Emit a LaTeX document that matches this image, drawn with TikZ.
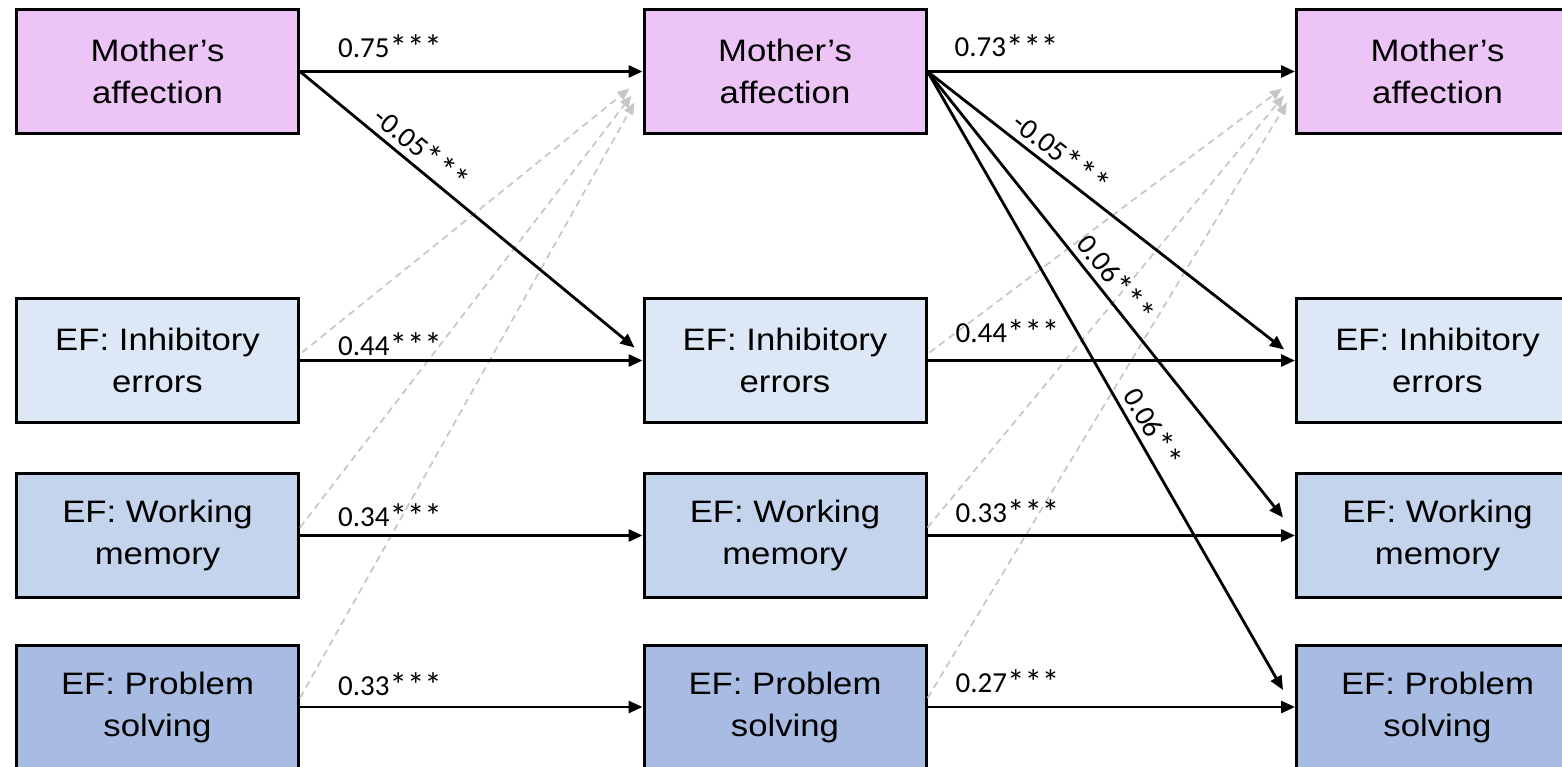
\documentclass[tikz,border=0pt]{standalone}
\usepackage{fontspec}
\setmainfont{Liberation Sans}
\newfontfamily\boxfont[FakeStretch=1.12]{Liberation Sans}
\newfontfamily\labfont{Carlito}
\usetikzlibrary{arrows.meta,calc}
\definecolor{momc}{RGB}{236,197,246}
\definecolor{inhc}{RGB}{221,232,246}
\definecolor{wmc}{RGB}{197,212,237}
\definecolor{psc}{RGB}{168,188,227}
\definecolor{ghostc}{RGB}{198,198,198}
\newcommand{\sigstars}[1]{\raisebox{-2.5pt}{\fontsize{35}{35}\selectfont #1}}
\begin{document}
\begin{tikzpicture}[x=1pt,y=-1pt,
  box/.style={draw=black, line width=3pt, minimum width=282pt, minimum height=124pt,
    inner sep=0pt, align=center, font=\boxfont\fontsize{31}{42}\selectfont},
  mom/.style={box, fill=momc},
  inh/.style={box, fill=inhc},
  wm/.style={box, fill=wmc},
  ps/.style={box, fill=psc},
  solidarr/.style={draw=black, line width=2.8pt, -{Triangle[length=14pt,width=12pt]}},
  ghost/.style={draw=ghostc, line width=1.7pt, dash pattern=on 7pt off 5pt,
    -{Triangle[length=12pt,width=10pt]}},
  coef/.style={font=\labfont\fontsize{29}{30}\selectfont, inner sep=1pt},
  slab/.style={coef, sloped, above=3pt}
]
\useasboundingbox (0,0) rectangle (1562,767);
\clip (0,0) rectangle (1562,767);

% boxes
\node[mom] (m1) at (157.5,71.5) {Mother’s\\affection};
\node[inh] (i1) at (157.5,360.5) {EF: Inhibitory\\errors};
\node[wm]  (w1) at (157.5,535.5) {EF: Working\\memory};
\node[ps]  (p1) at (157.5,707) {EF: Problem\\solving};

\node[mom] (m2) at (785,71.5) {Mother’s\\affection};
\node[inh] (i2) at (785,360.5) {EF: Inhibitory\\errors};
\node[wm]  (w2) at (785,535.5) {EF: Working\\memory};
\node[ps]  (p2) at (785,707) {EF: Problem\\solving};

\node[mom] (m3) at (1437.5,71.5) {Mother’s\\affection};
\node[inh] (i3) at (1437.5,360.5) {EF: Inhibitory\\errors};
\node[wm]  (w3) at (1437.5,535.5) {EF: Working\\memory};
\node[ps]  (p3) at (1437.5,707) {EF: Problem\\solving};

% helper coordinates
\coordinate (g1a) at ($(m2.west)+(-13,17)$);
\coordinate (g1b) at ($(m2.west)+(-11,24)$);
\coordinate (g1c) at ($(m2.west)+(-8,31)$);
\coordinate (g2a) at ($(m3.west)+(-13,17)$);
\coordinate (g2b) at ($(m3.west)+(-11,24)$);
\coordinate (g2c) at ($(m3.west)+(-8,31)$);
\coordinate (s1a) at ($(i1.east)+(2,-8)$);
\coordinate (s1b) at ($(w1.east)+(0,-8)$);
\coordinate (s1c) at ($(p1.east)+(0,-9)$);
\coordinate (s2a) at ($(i2.east)+(2,-8)$);
\coordinate (s2b) at ($(w2.east)+(0,-8)$);
\coordinate (s2c) at ($(p2.east)+(0,-9)$);
\coordinate (t1) at ($(i2.west)+(-8,-13)$);
\coordinate (t2) at ($(i3.west)+(-11,-11)$);
\coordinate (t3) at ($(w3.west)+(-12,-18)$);
\coordinate (t4) at ($(p3.west)+(-12,-17)$);

% gray dashed cross-lagged paths
\draw[ghost] (s1a) -- (g1a);
\draw[ghost] (s1b) -- (g1b);
\draw[ghost] (s1c) -- (g1c);
\draw[ghost] (s2a) -- (g2a);
\draw[ghost] (s2b) -- (g2b);
\draw[ghost] (s2c) -- (g2c);

% autoregressive paths
\draw[solidarr] (m1.east) -- (m2.west);
\draw[solidarr] (i1.east) -- (i2.west);
\draw[solidarr] (w1.east) -- (w2.west);
\draw[solidarr] (p1.east) -- (p2.west);
\draw[solidarr] (m2.east) -- (m3.west);
\draw[solidarr] (i2.east) -- (i3.west);
\draw[solidarr] (w2.east) -- (w3.west);
\draw[solidarr] (p2.east) -- (p3.west);

% cross-lagged significant paths
\draw[solidarr] (m1.east) -- node[slab, pos=0.33] {-0.05\sigstars{***}} (t1);
\draw[solidarr] (m2.east) -- node[slab, pos=0.345] {-0.05\sigstars{***}} (t2);
\draw[solidarr] (m2.east) -- node[slab, pos=0.49] {0.06\sigstars{***}} (t3);
\draw[solidarr] (m2.east) -- node[slab, pos=0.59] {0.06\sigstars{**}} (t4);

% coefficient labels
\node[coef, anchor=base west] (l1) at ($(m1.east)+(37,-14)$) {0.75\sigstars{***}};
\node[coef, anchor=base west] (l2) at ($(i1.east)+(37,-5.5)$) {0.44\sigstars{***}};
\node[coef, anchor=base west] (l3) at ($(w1.east)+(37,-9.5)$) {0.34\sigstars{***}};
\node[coef, anchor=base west] (l4) at ($(p1.east)+(37,-12)$) {0.33\sigstars{***}};
\node[coef, anchor=base west] (l5) at ($(m2.east)+(26,-14.5)$) {0.73\sigstars{***}};
\node[coef, anchor=base west] (l6) at ($(i2.east)+(27,-18.5)$) {0.44\sigstars{***}};
\node[coef, anchor=base west] (l7) at ($(w2.east)+(27,-13.5)$) {0.33\sigstars{***}};
\node[coef, anchor=base west] (l8) at ($(p2.east)+(27,-15)$) {0.27\sigstars{***}};
\end{tikzpicture}
\end{document}
